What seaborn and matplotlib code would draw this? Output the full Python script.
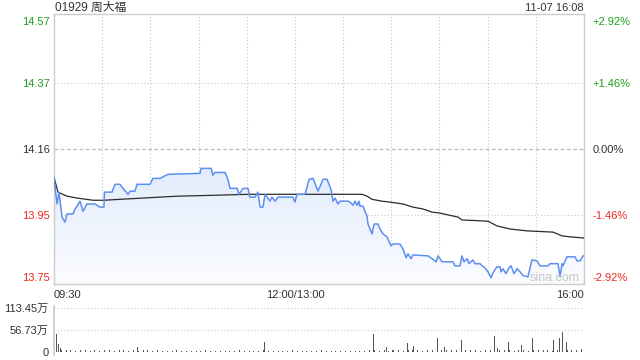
import numpy as np
import pandas as pd
import matplotlib
matplotlib.use("Agg")
import matplotlib.pyplot as plt
import seaborn as sns
from matplotlib.colors import LinearSegmentedColormap

# ---------------- data ----------------
title_text = "01929 周大福"
stamp_text = "11-07 16:08"
prev_close = 14.16

# price line (minutes since 09:30, trading minutes; 150 = 12:00/13:00)
price_min = [0, 1.9, 3.1, 5, 6.8, 8.1, 11.8, 13.1, 14.3, 16.2, 18.1, 20.5, 25.5, 28.6, 31.1, 31.4,
             36.1, 38, 41.1, 42.3, 46.1, 47.3, 50.4, 51.7, 59.8, 61.6, 66, 71, 90.9, 91.5, 97.8,
             99, 100.2, 106.5, 108.3, 109.6, 114, 115.2, 117.7, 120.8, 122, 125.2, 127, 128.3,
             130.1, 131.4, 134.5, 135.7, 137.6, 139.5, 148.8, 150, 151.3, 156.3, 158.8, 161.3,
             164.4, 167.5, 170, 172.5, 173.7, 175, 176.8, 178.1, 183.1, 184.3, 186.2, 187.4,
             188.7, 189.9, 190.5, 192.4, 193.6, 194.9, 195.5, 198, 199.3, 201.7, 203, 204.9,
             207.3, 209.8, 211.1, 215.4, 217.3, 219.2, 220.4, 222.3, 223.5, 232.9, 235.4, 237.9,
             239.1, 241.6, 248.4, 249.7, 252.8, 254, 255.3, 257.2, 258.4, 260.9, 262.1, 265.3,
             266.5, 268.4, 270.2, 272.1, 273.3, 275.8, 277.7, 278.3, 279.6, 281.4, 283.3, 284.6,
             286.4, 288.3, 290.2, 292, 295.1, 297.6, 300.7, 302.6, 307.6, 308.8, 313.8, 315.1,
             316.3, 316.9, 319.4, 324.4, 325.7, 327.5, 329.4, 330]
price_val = [14.069, 13.984, 14.022, 13.942, 13.926, 13.952, 13.952, 13.968, 13.977, 13.993, 13.961,
             13.984, 13.984, 13.974, 13.974, 14.022, 14.022, 14.047, 14.047, 14.038, 14.015, 14.025,
             14.025, 14.047, 14.047, 14.066, 14.066, 14.079, 14.082, 14.098, 14.098, 14.076, 14.085,
             14.085, 14.063, 14.034, 14.034, 14.015, 14.034, 14.034, 14.006, 14.006, 14.022, 13.974,
             13.974, 14.015, 13.993, 14.006, 13.993, 14.006, 14.006, 13.990, 14.015, 14.015, 14.063,
             14.066, 14.025, 14.063, 14.063, 14.031, 13.993, 14.003, 13.984, 13.993, 13.993, 13.990,
             13.980, 13.993, 13.980, 13.993, 13.977, 13.977, 13.961, 13.945, 13.920, 13.888, 13.920,
             13.920, 13.904, 13.888, 13.879, 13.850, 13.856, 13.856, 13.840, 13.812, 13.825, 13.809,
             13.821, 13.818, 13.809, 13.799, 13.818, 13.799, 13.799, 13.786, 13.786, 13.818, 13.799,
             13.809, 13.793, 13.805, 13.793, 13.793, 13.786, 13.780, 13.767, 13.748, 13.764, 13.783,
             13.783, 13.767, 13.777, 13.761, 13.780, 13.786, 13.761, 13.777, 13.767, 13.755, 13.751,
             13.805, 13.802, 13.786, 13.786, 13.793, 13.793, 13.751, 13.793, 13.786, 13.815, 13.815,
             13.802, 13.802, 13.818, 13.818]

# average price line
avg_min = [0, 2.5, 8.1, 14.3, 24.3, 31.1, 41.1, 76.6, 100.2, 120.8, 191.8, 194.9, 198, 204.2,
           209.2, 217.3, 223.5, 229.8, 235.4, 240.3, 251.6, 254, 270.2, 275.8, 283.9, 294.5,
           310.7, 316.3, 321.3, 330]
avg_val = [14.069, 14.022, 14.009, 14.003, 13.996, 13.996, 13.999, 14.009, 14.012, 14.015, 14.015,
           14.009, 13.999, 13.993, 13.990, 13.984, 13.974, 13.968, 13.958, 13.955, 13.942, 13.933,
           13.929, 13.914, 13.904, 13.898, 13.894, 13.882, 13.879, 13.875]

# volume (万股): small steady trades every 3 minutes plus larger prints
base_vol = [8, 6, 5, 4, 3, 5, 4, 3, 4, 3, 5, 4, 3, 4, 6, 3, 4, 3, 5, 4,
            3, 4, 3, 2, 3, 4, 3, 3, 2, 3, 3, 4, 3, 2, 3, 3, 2, 3, 4, 3,
            2, 3, 3, 4, 2, 3, 3, 2, 3, 4, 3, 3, 2, 3, 3, 4, 3, 2, 3, 3,
            2, 3, 3, 2, 3, 4, 5, 3, 4, 3, 4, 5, 3, 4, 6, 4, 3, 5, 4, 3,
            4, 5, 6, 4, 3, 5, 4, 4, 3, 5, 4, 3, 5, 4, 6, 3, 4, 5, 3, 4,
            5, 4, 6, 3, 5, 4, 6, 5, 4, 7, 6]
spike_min = [0, 1.5, 3, 4, 33, 52, 131, 199, 207, 211, 220, 224, 231, 239, 243, 254, 274, 276,
             283, 291, 298, 311, 315, 316.5, 319, 330]
spike_vol = [37, 47, 20, 10, 12, 12, 25, 47, 12, 6, 22, 15, 15, 35, 12, 30, 42, 10,
             25, 17, 35, 30, 35, 52, 25, 113.45]

y_left_ticks = [13.75, 13.95, 14.16, 14.37, 14.57]
y_left_labels = ["13.75", "13.95", "14.16", "14.37", "14.57"]
y_right_labels = ["-2.92%", "-1.46%", "0.00%", "+1.46%", "+2.92%"]
x_tick_pos = [0, 150, 330]
x_tick_labels = ["09:30", "12:00/13:00", "16:00"]
vol_ticks = [0, 56.73, 113.45]
vol_labels = ["0", "56.73万", "113.45万"]

# ---------------- style ----------------
sns.set_theme(style="white")
plt.rcParams["font.family"] = ["Liberation Sans", "Noto Sans CJK SC", "DejaVu Sans"]

GREEN = "#1a9f1a"
RED = "#f0281e"
DARK = "#333333"
GRID = "#c8c8c8"
BLUE = "#5d8ff0"

W, H = 640, 360
fig = plt.figure(figsize=(W / 100, H / 100), dpi=100)
fig.patch.set_facecolor("white")

def fx(px):
    return px / W

def fy(py):
    return 1 - py / H

# main axes: x 54..584, y 14..284
ax = fig.add_axes([fx(54), fy(284), fx(584) - fx(54), fy(14) - fy(284)])
ymin, ymax = 13.728, 14.592
ax.set_xlim(0, 330)
ax.set_ylim(ymin, ymax)

df_price = pd.DataFrame({"minute": price_min, "price": price_val})
df_avg = pd.DataFrame({"minute": avg_min, "avg": avg_val})

# gradient fill under price line
poly = ax.fill_between(df_price["minute"], df_price["price"], ymin, color="none", lw=0)
grad = np.linspace(0, 1, 256).reshape(-1, 1)
cmap = LinearSegmentedColormap.from_list("fade", ["#fbfcff", "#e2ecfc"])
im = ax.imshow(grad, extent=[0, 330, ymin, max(price_val)], aspect="auto", cmap=cmap,
               origin="lower", zorder=1, interpolation="bilinear")
im.set_clip_path(poly.get_paths()[0], transform=ax.transData)

# grid lines
for m in range(30, 330, 30):
    ax.axvline(m, color=GRID, lw=0.8, ls=(0, (1, 2)), zorder=0.5)
for v in [13.95, 14.37]:
    ax.axhline(v, color=GRID, lw=0.8, ls=(0, (1, 2)), zorder=0.5)
ax.axhline(prev_close, color="#bbbbbb", lw=0.9, ls=(0, (3, 2)), zorder=0.5)

sns.lineplot(data=df_avg, x="minute", y="avg", ax=ax, color="#2b2b2b", lw=0.9, zorder=3,
             estimator=None, sort=False)
sns.lineplot(data=df_price, x="minute", y="price", ax=ax, color=BLUE, lw=1.1, zorder=4,
             estimator=None, sort=False)
ax.set_xlim(0, 330)
ax.set_ylim(ymin, ymax)
ax.set_xlabel("")
ax.set_ylabel("")

for s in ax.spines.values():
    s.set_color("#cccccc")
    s.set_linewidth(1)

ax.set_yticks(y_left_ticks)
ax.set_yticklabels(y_left_labels)
ax.tick_params(axis="y", length=0, pad=3, labelsize=8)
left_colors = [RED, RED, DARK, GREEN, GREEN]
for lab, c in zip(ax.get_yticklabels(), left_colors):
    lab.set_color(c)

ax.set_xticks(x_tick_pos)
ax.set_xticklabels(x_tick_labels)
ax.tick_params(axis="x", length=0, pad=4, labelsize=8, labelcolor=DARK)
for lab, ha in zip(ax.get_xticklabels(), ["left", "center", "right"]):
    lab.set_ha(ha)

axr = ax.twinx()
axr.set_ylim(ymin, ymax)
axr.set_yticks(y_left_ticks)
axr.set_yticklabels(y_right_labels)
axr.tick_params(axis="y", length=0, pad=6, labelsize=8)
for lab, c in zip(axr.get_yticklabels(), left_colors):
    lab.set_color(c)
for s in axr.spines.values():
    s.set_visible(False)
axr.grid(False)

ax.text(330 - 3, 13.748, "sina.com", ha="right", va="center", fontsize=9, color="#c8c8c8",
        zorder=5)

fig.text(fx(55), fy(8), title_text, ha="left", va="center", fontsize=8.5, color=DARK)
fig.text(fx(584), fy(8), stamp_text, ha="right", va="center", fontsize=8, color=DARK)

# volume axes: y 306..355, zero at 352, 113.45 at 308
axv = fig.add_axes([fx(54), fy(355), fx(584) - fx(54), fy(306) - fy(355)])
ppu = 44 / 113.45
axv.set_xlim(0, 330)
axv.set_ylim(-3 / ppu, 113.45 + 2 / ppu)
axv.axhline(113.45, color=GRID, lw=0.8, ls=(0, (1, 2)), zorder=0)
axv.axhline(56.73, color=GRID, lw=0.8, ls=(0, (1, 2)), zorder=0)
base_min = [3 * i + 1.5 for i in range(len(base_vol))]
base_min[-1] = 328.5
axv.bar(base_min, base_vol, width=0.6, bottom=0, color="#555555", lw=0)
axv.bar(spike_min, spike_vol, width=0.6, bottom=0, color="#555555", lw=0)
axv.set_xticks([])
axv.set_yticks(vol_ticks)
axv.set_yticklabels(vol_labels)
axv.tick_params(axis="y", length=0, pad=4, labelsize=8, labelcolor=DARK)
for name, s in axv.spines.items():
    s.set_visible(name == "left")
axv.spines["left"].set_color("#cccccc")
axv.set_facecolor("none")
axv.grid(False)
ax.grid(False)

fig.savefig("out.png", dpi=100, facecolor="white")
